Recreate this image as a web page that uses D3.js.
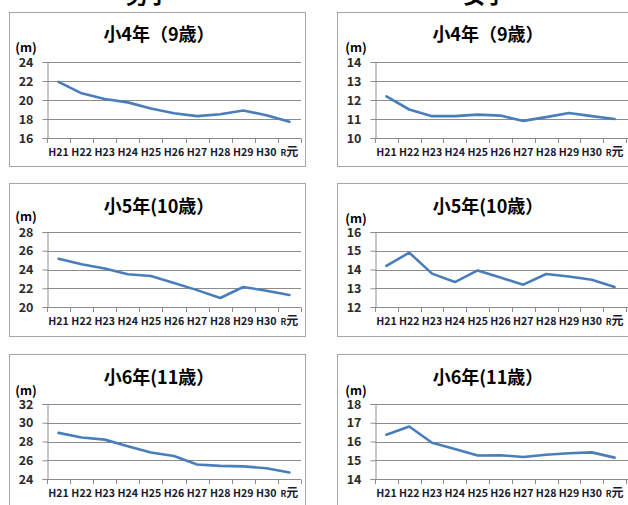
<!DOCTYPE html>
<html><head><meta charset="utf-8">
<script src="https://cdn.jsdelivr.net/npm/d3@7"></script>
<style>
html,body{margin:0;padding:0;background:#fff;}
svg{display:block;}
text{font-family:"Noto Sans CJK JP","Noto Sans",sans-serif;}
</style></head>
<body>
<svg id="c" width="628" height="505"></svg>
<script>
const years = ["H21","H22","H23","H24","H25","H26","H27","H28","H29","H30","R元"];
const groupTitles = ["男子","女子"];
const panelTitles = ["小4年（9歳）","小5年(10歳）","小6年(11歳）"];
const unitLabel = "(m)";
const boys9  = [21.9,20.7,20.1,19.75,19.1,18.6,18.3,18.5,18.9,18.4,17.7];
const boys10 = [25.15,24.55,24.1,23.5,23.3,22.55,21.8,20.96,22.13,21.74,21.28];
const boys11 = [28.92,28.43,28.2,27.5,26.82,26.45,25.55,25.4,25.35,25.15,24.7];
const girls9  = [12.19,11.5,11.15,11.15,11.23,11.18,10.9,11.1,11.32,11.15,11.0];
const girls10 = [14.19,14.9,13.78,13.33,13.95,13.57,13.19,13.76,13.63,13.45,13.07];
const girls11 = [16.36,16.8,15.93,15.6,15.25,15.27,15.17,15.29,15.37,15.42,15.14];
const boysTicks  = [[16,18,20,22,24],[20,22,24,26,28],[24,26,28,30,32]];
const girlsTicks = [[10,11,12,13,14],[12,13,14,15,16],[14,15,16,17,18]];

const svg = d3.select("#c");
const lineColor = "#4a7ebb";
const gridColor = "#8c8c8c";

const cols = [
  {bx0:9, bx1:305, ax0:47, ax1:301, gx1:301, titleX:159, groupX:148, mX:26},
  {bx0:337, bx1:700, ax0:375, ax1:626, gx1:640, titleX:488, groupX:485, mX:356}
];
const rows = [
  {by0:12, by1:166, y0:62, y1:138, titleY:35, mY:[48,48]},
  {by0:183, by1:336, y0:232, y1:307, titleY:207, mY:[217,219]},
  {by0:354, by1:540, y0:404, y1:479, titleY:378, mY:[391,391]}
];

const panels = [
  {c:0,r:0,data:boys9,ticks:boysTicks[0]},
  {c:0,r:1,data:boys10,ticks:boysTicks[1]},
  {c:0,r:2,data:boys11,ticks:boysTicks[2]},
  {c:1,r:0,data:girls9,ticks:girlsTicks[0]},
  {c:1,r:1,data:girls10,ticks:girlsTicks[1]},
  {c:1,r:2,data:girls11,ticks:girlsTicks[2]}
];

// group titles (cut off at top)
groupTitles.forEach((t,i)=>{
  svg.append("text").attr("x",cols[i].groupX).attr("y",3)
    .attr("text-anchor","middle").attr("font-size",22).attr("font-weight","bold")
    .attr("fill","#000").text(t);
});

panels.forEach(p=>{
  const C = cols[p.c], R = rows[p.r];
  const g = svg.append("g");
  g.append("rect").attr("x",C.bx0+0.5).attr("y",R.by0+0.5)
    .attr("width",C.bx1-C.bx0).attr("height",R.by1-R.by0)
    .attr("fill","#fff").attr("stroke","#a6a6a6").attr("stroke-width",1);

  const x = d3.scaleBand().domain(years).range([C.ax0,C.ax1]);
  const y = d3.scaleLinear().domain([p.ticks[0],p.ticks[p.ticks.length-1]]).range([R.y1,R.y0]);

  // gridlines
  g.append("g").selectAll("line").data(p.ticks.slice(1)).join("line")
    .attr("x1",C.ax0).attr("x2",C.gx1)
    .attr("y1",d=>Math.round(y(d))+0.5).attr("y2",d=>Math.round(y(d))+0.5)
    .attr("stroke",gridColor).attr("stroke-width",1);

  // y axis
  const ya = g.append("g").attr("transform",`translate(${C.ax0+0.5},0)`)
    .call(d3.axisLeft(y).tickValues(p.ticks).tickSize(5).tickPadding(9).tickFormat(d3.format("d")));
  ya.select(".domain").attr("stroke",gridColor);
  ya.selectAll(".tick line").attr("stroke",gridColor);
  ya.selectAll(".tick text").attr("font-size",12.5).attr("font-weight","bold").attr("fill","#2a2a2a")
    .style("font-family","'Noto Sans CJK JP',sans-serif");

  // x axis
  const xa = g.append("g").attr("transform",`translate(0,${Math.round(R.y1)+0.5})`)
    .call(d3.axisBottom(x).tickSize(0).tickPadding(10));
  xa.select(".domain").attr("stroke",gridColor).attr("d",`M${C.ax0},0H${C.gx1}`);
  xa.selectAll(".tick line").remove();
  xa.selectAll(".tick text").attr("font-size",10.6).attr("font-weight","bold").attr("fill","#1a1a2e")
    .style("font-family","'Noto Sans CJK JP',sans-serif")
    .each(function(d){
      if(d==="R元"){
        const t=d3.select(this); t.text(null);
        t.append("tspan").attr("font-size",8.5).text("R");
        t.append("tspan").attr("font-size",12).text("元");
      }
    });
  // x tick marks at band boundaries
  const bounds = years.map(d=>x(d)).concat([C.ax1]).filter(v=>v<=640);
  g.append("g").selectAll("line").data(bounds).join("line")
    .attr("x1",d=>Math.round(d)+0.5).attr("x2",d=>Math.round(d)+0.5)
    .attr("y1",Math.round(R.y1)+0.5).attr("y2",Math.round(R.y1)+5)
    .attr("stroke",gridColor);

  // line
  const line = d3.line().x((d,i)=>x(years[i])+x.bandwidth()/2).y(d=>y(d));
  g.append("path").datum(p.data).attr("d",line)
    .attr("fill","none").attr("stroke",lineColor).attr("stroke-width",2.6)
    .attr("stroke-linejoin","round").attr("stroke-linecap","round");

  // title
  g.append("text").attr("x",C.titleX).attr("y",R.titleY).attr("dy","0.36em")
    .attr("text-anchor","middle").attr("font-size",18).attr("font-weight","bold")
    .attr("fill","#000").text(panelTitles[p.r]);

  // unit
  g.append("text").attr("x",C.mX).attr("y",R.mY[p.c]).attr("dy","0.35em")
    .attr("text-anchor","middle").attr("font-size",12.5).attr("font-weight","bold")
    .attr("fill","#000").text(unitLabel);
});
</script>
</body></html>
